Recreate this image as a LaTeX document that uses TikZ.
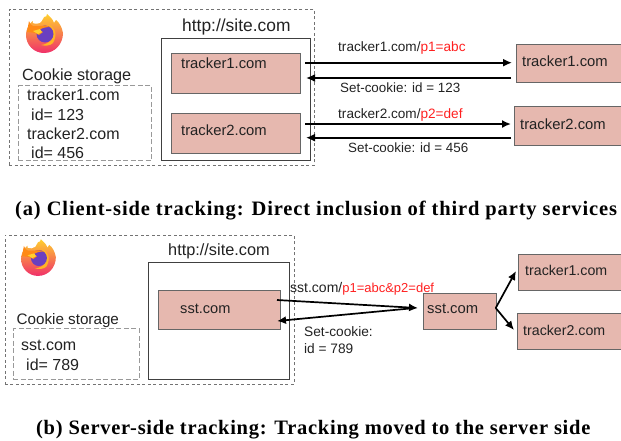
\documentclass[tikz,border=0pt]{standalone}
\usepackage{fontspec}
\setmainfont{Liberation Sans}
\newfontfamily\capfont[LetterSpace=4.2]{Liberation Serif}
\newfontfamily\capfontb[LetterSpace=3.55]{Liberation Serif}
\usetikzlibrary{arrows.meta,shadings}
\definecolor{boxfill}{HTML}{E6B8AF}
\definecolor{boxline}{HTML}{666666}
\definecolor{dashline}{HTML}{999999}
\definecolor{txt}{HTML}{222222}
\definecolor{redtxt}{HTML}{FF2020}
\definecolor{ffo}{HTML}{FF8A16}
\definecolor{ffr}{HTML}{F0306A}
\definecolor{ffy}{HTML}{FFD02E}
\definecolor{ffp}{HTML}{6A3FC0}
\tikzset{
 x=1pt,y=-1pt,
 site/.style={draw=black!75,line width=0.9pt,fill=white},
 outerdash/.style={draw=black!55,line width=0.7pt,dash pattern=on 3pt off 2.5pt},
 cookiedash/.style={draw=dashline,line width=1pt,dash pattern=on 5pt off 2.5pt},
 pinkbox/.style={draw=boxline,fill=boxfill,line width=1pt},
 lab/.style={font=\fontsize{#1}{16}\selectfont,text=txt,anchor=base west,inner sep=0pt},
 lab/.default=14.8,
 small/.style={font=\fontsize{#1}{15}\selectfont,text=txt,anchor=base west,inner sep=0pt},
 small/.default=13.6,
 captext/.style={font=\fontsize{20.5}{22}\selectfont\capfont\bfseries,text=black,anchor=base west,inner sep=0pt},
 captextb/.style={font=\fontsize{20.5}{22}\selectfont\capfontb\bfseries,text=black,anchor=base west,inner sep=0pt},
 conn/.style={draw=black,line width=1.7pt,-{Latex[length=9pt,width=8pt]}},
 pics/fflogo/.style={code={
  \shade[top color=ffy,middle color=ffo,bottom color=ffr]
     (0,-18) .. controls (-10,-18) and (-18,-10) .. (-18,0) .. controls (-18,10) and (-10,18) .. (0,18)
     .. controls (11,18) and (19,9) .. (19,-2) .. controls (18,-8) and (15,-13) .. (12,-15)
     .. controls (11,-13) and (10,-13) .. (10,-12) .. controls (9,-16) and (6,-18) .. (3,-21) .. controls (3,-19) and (2,-18) .. (0,-18) -- cycle;
  \fill[white] (-12,-20) -- (-11,-12) .. controls (-9,-11) and (-5,-11) .. (-3,-13) .. controls (-2,-15) and (0,-17) .. (1,-21) -- cycle;
  \fill[ffo] (-17,-3) -- (-15,-14) .. controls (-14,-11) and (-13,-10) .. (-11,-9) -- (-4,-9) -- (-8,-2) -- cycle;
  \fill[ffy!60!ffo] (3,-11) .. controls (11,-9) and (14,-1) .. (9,8) .. controls (6,11) and (1,11) .. (-3,10) .. controls (7,9) and (11,1) .. (8,-5) -- cycle;
  \fill[ffp] (1,-1) circle (8.5);
  \fill[ffo] (-12,-4) .. controls (-7,-9) and (-1,-11) .. (6,-8) .. controls (2,-8) and (-2,-7) .. (-5,-5) -- (-1,-3) -- (-5,0) -- cycle;
  \fill[ffy] (-11,-4) -- (-4,-6) -- (-2,-3) -- (-6,-1) -- cycle;
 }}
}
\begin{document}
\begin{tikzpicture}
\useasboundingbox (0,0) rectangle (621,440);
% ---- (a)
\node[outerdash,minimum width=305pt,minimum height=156pt,anchor=north west,inner sep=0pt] (outerA) at (9,9) {};
\node[site,minimum width=148.5pt,minimum height=122pt,anchor=north west,inner sep=0pt] (siteA) at (161,38) {};
\node[pinkbox,minimum width=129pt,minimum height=40pt,anchor=north west,inner sep=0pt] (tA) at (171,53) {};
\node[pinkbox,minimum width=129pt,minimum height=40pt,anchor=north west,inner sep=0pt] (tB) at (171,113) {};
\node[cookiedash,minimum width=133.5pt,minimum height=75pt,anchor=north west,inner sep=0pt] (cookA) at (17.5,85) {};
\begin{scope}
\clip (0,0) rectangle (621,440);
\node[pinkbox,minimum width=120pt,minimum height=38pt,anchor=north west,inner sep=0pt] (eA) at (516,44) {};
\node[pinkbox,minimum width=122pt,minimum height=39pt,anchor=north west,inner sep=0pt] (eB) at (513.5,106) {};
\node[pinkbox,minimum width=120pt,minimum height=35.5pt,anchor=north west,inner sep=0pt] (eC) at (518,254) {};
\node[pinkbox,minimum width=122pt,minimum height=36pt,anchor=north west,inner sep=0pt] (eD) at (516.7,313) {};
\end{scope}
\pic at (44,35) {fflogo};
\node[lab=17.4] (l1) at (182,31) {http://site.com};
\node[lab] (l2) at (181,68) {tracker1.com};
\node[lab] (l3) at (181,135) {tracker2.com};
\node[lab=16.2] (l4) at (22,80) {Cookie storage};
\node[lab=16] (l5) at (27,100) {tracker1.com};
\node[lab=16] (l6) at (31,120) {id= 123};
\node[lab=16] (l7) at (27,139) {tracker2.com};
\node[lab=16] (l8) at (31,158) {id= 456};
\node[lab] (l9) at (522,66) {tracker1.com};
\node[lab] (l10) at (520,129) {tracker2.com};
\node[small] (l11) at (338,51) {tracker1.com/\textcolor{redtxt}{p1=abc}};
\node[small=13.4] (l12) at (340,92) {Set-cookie: id = 123};
\node[small] (l13) at (338,118) {tracker2.com/\textcolor{redtxt}{p2=def}};
\node[small=13.4] (l14) at (348,152) {Set-cookie: id = 456};
\coordinate (a1s) at (305,62.7); \coordinate (a1e) at (512,62.7);
\coordinate (a2s) at (511,78);   \coordinate (a2e) at (306,78);
\coordinate (a3s) at (305,124);  \coordinate (a3e) at (511,124);
\coordinate (a4s) at (511,137.7);\coordinate (a4e) at (306,137.7);
\draw[conn] (a1s) -- (a1e);
\draw[conn] (a2s) -- (a2e);
\draw[conn] (a3s) -- (a3e);
\draw[conn] (a4s) -- (a4e);
\node[captext] (capA) at (15,215) {(a) Client-side tracking: Direct inclusion of third party services};
% ---- (b)
\node[outerdash,minimum width=289pt,minimum height=149.5pt,anchor=north west,inner sep=0pt] (outerB) at (4.5,234.5) {};
\node[site,minimum width=141pt,minimum height=117pt,anchor=north west,inner sep=0pt] (siteB) at (148,261.5) {};
\node[pinkbox,minimum width=122pt,minimum height=39pt,anchor=north west,inner sep=0pt] (sB) at (158,290) {};
\node[cookiedash,minimum width=126pt,minimum height=51pt,anchor=north west,inner sep=0pt] (cookB) at (12.5,328) {};
\node[pinkbox,minimum width=72.7pt,minimum height=36pt,anchor=north west,inner sep=0pt] (sE) at (423,293) {};
\pic[scale=0.94] at (38,259) {fflogo};
\node[lab=16.3] (m1) at (168,255) {http://site.com};
\node[lab=14.6] (m2) at (180,313) {sst.com};
\node[lab=15.2] (m3) at (16.5,324) {Cookie storage};
\node[lab=16] (m4) at (21,350) {sst.com};
\node[lab=16] (m5) at (26,370) {id= 789};
\node[lab] (m6) at (427,313) {sst.com};
\node[lab=14.2] (m7) at (525,275) {tracker1.com};
\node[lab=14.2] (m8) at (523,335) {tracker2.com};
\node[small=14] (m9) at (290,292) {sst.com/\textcolor{redtxt}{\fontsize{13}{15}\selectfont p1=abc\&p2=def}};
\node[small=13.7] (m10) at (304,336) {Set-cookie:};
\node[small=13.7] (m11) at (304,353) {id = 789};
\coordinate (b1s) at (277,300); \coordinate (b1e) at (418,308);
\coordinate (b2s) at (415,308); \coordinate (b2e) at (277,321);
\coordinate (b3s) at (495.7,308); \coordinate (b3e) at (516,271);
\coordinate (b4e) at (514,330);
\draw[conn] (b1s) -- (b1e);
\draw[conn] (b2s) -- (b2e);
\draw[conn] (b3s) -- (b3e);
\draw[conn] (b3s) -- (b4e);
\node[captextb] (capB) at (36,434) {(b) Server-side tracking: Tracking moved to the server side};
\end{tikzpicture}
\end{document}
